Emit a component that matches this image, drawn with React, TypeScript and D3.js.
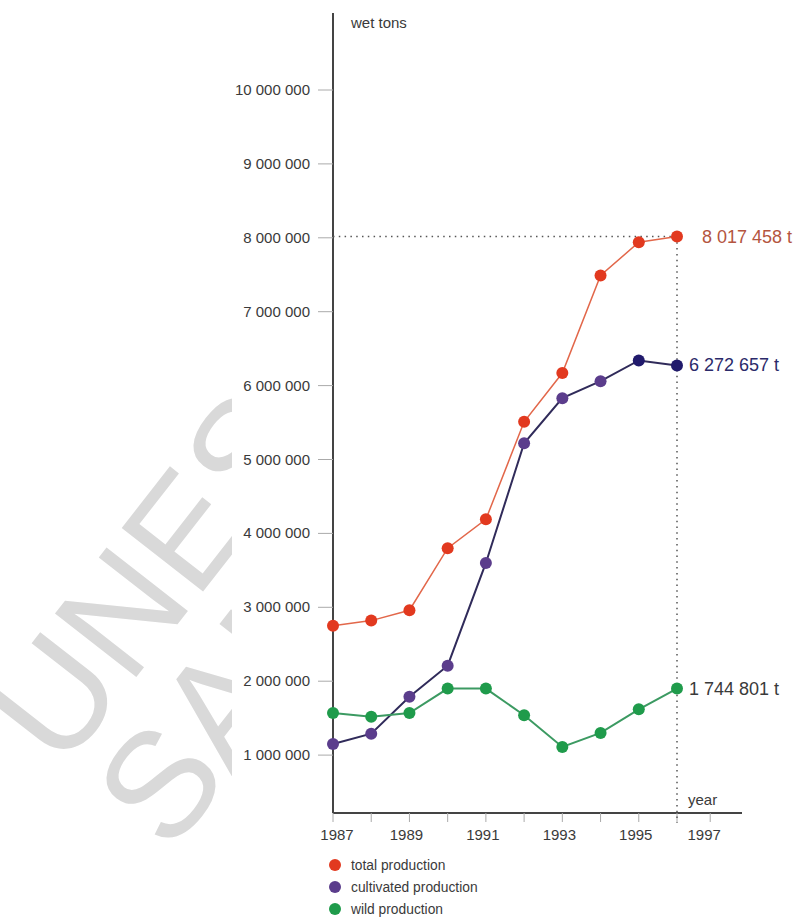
import * as d3 from 'd3';

const years = [1987, 1988, 1989, 1990, 1991, 1992, 1993, 1994, 1995, 1996];
const totalProduction = [2750000, 2820000, 2960000, 3800000, 4190000, 5510000, 6170000, 7490000, 7940000, 8017458];
const cultivatedProduction = [1150000, 1290000, 1790000, 2210000, 3600000, 5220000, 5830000, 6060000, 6340000, 6272657];
const wildProduction = [1570000, 1520000, 1570000, 1900000, 1900000, 1540000, 1110000, 1300000, 1620000, 1900000];
const endLabels = ['8 017 458 t', '6 272 657 t', '1 744 801 t'];
const yTicks = [1000000, 2000000, 3000000, 4000000, 5000000, 6000000, 7000000, 8000000, 9000000, 10000000];
const xTicks = [1987, 1988, 1989, 1990, 1991, 1992, 1993, 1994, 1995, 1996, 1997];
const xTickLabels = [1987, 1989, 1991, 1993, 1995, 1997];
const legendItems = ['total production', 'cultivated production', 'wild production'];

const FONT = '"Liberation Sans", Arial, Helvetica, sans-serif';

export default function App() {
  const width = 795;
  const height = 920;
  const axisX = 333;
  const axisY = 813;

  const x = d3.scaleLinear().domain([1987, 1996]).range([333, 677]);
  const y = d3.scaleLinear().domain([0, 10000000]).range([829, 90]);

  const fmt = (v: number) => d3.format(',')(v).replace(/,/g, ' ');

  const series = [
    { values: totalProduction, line: '#e2674a', lineWidth: 1.5, dot: (i: number) => '#e2391f', label: '#b4553f' },
    {
      values: cultivatedProduction,
      line: '#302b5a',
      lineWidth: 2,
      dot: (i: number) => (i >= 8 ? '#211a6c' : '#5b3d8c'),
      label: '#2b2a6a',
    },
    { values: wildProduction, line: '#3c9a62', lineWidth: 2, dot: (i: number) => '#1f9b4b', label: '#3a3a3a' },
  ];

  const line = (vals: number[]) =>
    d3
      .line<number>()
      .x((_, i) => x(years[i]))
      .y((d) => y(d))(vals) || '';

  const last = years.length - 1;
  const topY = y(totalProduction[last]);

  return (
    <svg
      width={width}
      height={height}
      style={{ position: 'absolute', left: 0, top: 0, background: '#fff' }}
      fontFamily={FONT}
    >
      <defs>
        <clipPath id="wm-clip">
          <rect x={0} y={0} width={232} height={height} />
        </clipPath>
      </defs>

      {/* watermark */}
      <g clipPath="url(#wm-clip)" fill="#d9d9d9" fontSize={150} fontFamily={FONT}>
        <text transform="translate(62,772) rotate(-52)">UNESCO</text>
        <text transform="translate(170,855) rotate(-52)">SAMPLE</text>
      </g>

      {/* y axis */}
      <line x1={axisX} x2={axisX} y1={13} y2={axisY} stroke="#444" strokeWidth={2} />
      {yTicks.map((t) => (
        <g key={t}>
          <line x1={318} x2={axisX} y1={y(t)} y2={y(t)} stroke="#aaa" strokeWidth={1} />
          <text x={310} y={y(t) + 5} textAnchor="end" fontSize={15} fill="#3a3a3a">
            {fmt(t)}
          </text>
        </g>
      ))}
      <text x={351} y={28} fontSize={15} fill="#3a3a3a">
        wet tons
      </text>

      {/* x axis */}
      <line x1={axisX} x2={742} y1={axisY} y2={axisY} stroke="#444" strokeWidth={2} />
      {xTicks.map((t) => (
        <line key={t} x1={x(t) - (t === 1997 ? 5 : 0)} x2={x(t) - (t === 1997 ? 5 : 0)} y1={axisY} y2={axisY + 9} stroke="#aaa" strokeWidth={1} />
      ))}
      {xTickLabels.map((t) => (
        <text key={t} x={x(t) - (t === 1987 ? -4 : t === 1997 ? 11 : 3)} y={840} textAnchor="middle" fontSize={15} fill="#3a3a3a">
          {t}
        </text>
      ))}
      <text x={688} y={805} fontSize={15} fill="#3a3a3a">
        year
      </text>

      {/* reference dotted lines */}
      <line x1={axisX} x2={x(years[last])} y1={topY} y2={topY} stroke="#555" strokeWidth={1.5} strokeDasharray="1.5 4.3" />
      <line x1={x(years[last])} x2={x(years[last])} y1={topY} y2={axisY + 10} stroke="#555" strokeWidth={1.5} strokeDasharray="1.5 4.3" />

      {/* series */}
      {series.map((s, si) => (
        <g key={si}>
          <path d={line(s.values)} fill="none" stroke={s.line} strokeWidth={s.lineWidth} />
          {s.values.map((v, i) => (
            <circle key={i} cx={x(years[i])} cy={y(v)} r={6} fill={s.dot(i)} />
          ))}
          <text
            x={x(years[last]) + (si === 0 ? 25 : 12)}
            y={y(s.values[last]) + 6}
            fontSize={18}
            fill={s.label}
          >
            {endLabels[si]}
          </text>
        </g>
      ))}

      {/* legend */}
      {legendItems.map((label, i) => (
        <g key={label} transform={`translate(335, ${865 + i * 22})`}>
          <circle cx={0} cy={0} r={6} fill={series[i].dot(0)} />
          <text x={16} y={5} fontSize={13.8} fill="#3a3a3a">
            {label}
          </text>
        </g>
      ))}
    </svg>
  );
}
